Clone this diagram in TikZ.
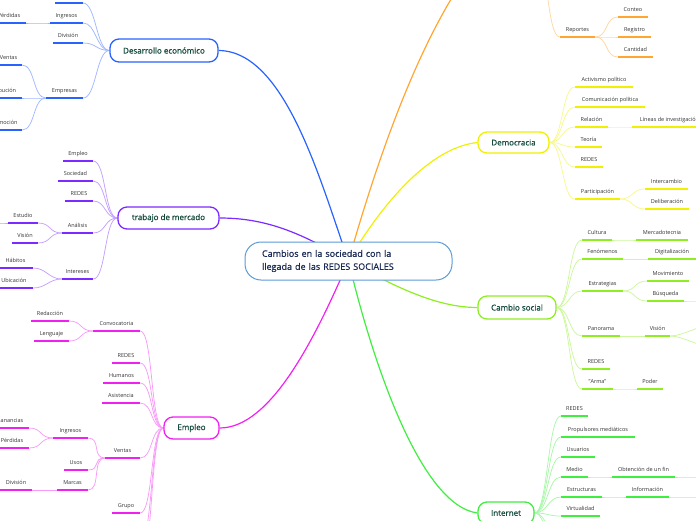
\documentclass[tikz,border=0pt]{standalone}
\usepackage{fontspec}
\setmainfont{Open Sans}
\newfontfamily\mmboldish[FakeBold=0.6]{Open Sans}
\definecolor{cB}{HTML}{2962FF}
\definecolor{cP}{HTML}{7B2BFF}
\definecolor{cM}{HTML}{F020F0}
\definecolor{cO}{HTML}{FFA630}
\definecolor{cY}{HTML}{F0F000}
\definecolor{cL}{HTML}{8EEE22}
\definecolor{cG}{HTML}{40EE40}
\definecolor{rootc}{HTML}{5B9BD5}
\definecolor{roottext}{HTML}{1B2B55}
\definecolor{maintext}{HTML}{134A3C}
\definecolor{leaftext}{HTML}{333333}
\pgfdeclarelayer{bg}
\pgfsetlayers{bg,main}
\newcommand\mmleaf[6]{%
  \pgfmathsetmacro\mmw{#4-(#3)}%
  \pgfmathsetmacro\mmx{(#3+#4)/2}%
  \node[leaf, minimum width=\mmw pt] (#2) at (\mmx,#5) {#6};%
  \draw[draw=#1, line width=1.6pt] (#2.south west) -- (#2.south east);%
}
\newcommand\mmR[3]{\begin{pgfonlayer}{bg}\draw[#1] (#2) .. controls +(13,0) and +(-13,0) .. (#3);\end{pgfonlayer}}
\newcommand\mmL[3]{\begin{pgfonlayer}{bg}\draw[#1] (#2) .. controls +(-13,0) and +(13,0) .. (#3);\end{pgfonlayer}}
\begin{document}
\begin{tikzpicture}[x=1pt,y=-1pt,
  leaf/.style={font=\fontsize{5.5}{6}\selectfont, text=leaftext, inner xsep=0pt, inner ysep=5pt, text height=4pt, text depth=0pt, anchor=south},
  mainbox/.style={draw=#1, line width=1.3pt, fill=white, rounded corners=9pt, font=\mmboldish\fontsize{8}{9}\selectfont, text=maintext, inner sep=0pt},
  rootbox/.style={draw=rootc, line width=1pt, fill=white, rounded corners=16pt, minimum width=207pt, minimum height=38pt, text width=173pt, align=left, inner xsep=17pt, inner ysep=0pt, font=\mmboldish\fontsize{9}{13}\selectfont, text=roottext},
  br/.style={draw=#1, line width=1.2pt},
  cn/.style={draw=#1!45, line width=0.75pt},
]
\useasboundingbox (0,0) rectangle (696,520);

\node[rootbox] (root) at (348.5,261) {Cambios en la sociedad con la\\llegada de las REDES SOCIALES};

\node[mainbox=cB, minimum width=108pt, minimum height=23pt] (dev) at (164,50.5) {Desarrollo económico};
\node[mainbox=cP, minimum width=101pt, minimum height=22pt] (trab) at (168.5,218) {trabajo de mercado};
\node[mainbox=cM, minimum width=55pt, minimum height=22pt] (empl) at (191.5,428) {Empleo};
\node[mainbox=cY, minimum width=71pt, minimum height=21pt] (demo) at (513.5,142.5) {Democracia};
\node[mainbox=cL, minimum width=78pt, minimum height=23pt] (camb) at (517,307.5) {Cambio social};
\node[mainbox=cG, minimum width=56pt, minimum height=22pt] (inet) at (506,513) {Internet};
\coordinate (orn) at (470,-30);
\coordinate (ornJ) at (535,-45);

\begin{pgfonlayer}{bg}
\draw[br=cB] (root.center) .. controls (320,180) and (285,51) .. (dev.east);
\draw[br=cP] (root.center) .. controls (300,232) and (265,218) .. (trab.east);
\draw[br=cM] (root.center) .. controls (314,341) and (270,428) .. (empl.east);
\draw[br=cO] (root.center) .. controls (380,150) and (420,40) .. (orn);
\draw[br=cY] (root.center) .. controls (375,215) and (425,148) .. (demo.west);
\draw[br=cL] (root.center) .. controls (400,290) and (440,307.5) .. (camb.west);
\draw[br=cG] (root.center) .. controls (372,360) and (420,505) .. (inet.west);
\end{pgfonlayer}

% Desarrollo economico
\coordinate (d0) at (83,3);
\draw[cB, line width=1.6pt] (d0) -- ++(-28,0);
\mmleaf{cB}{dIng}{50}{83}{23}{Ingresos}
\mmleaf{cB}{dPer}{-8}{26}{23}{Pérdidas}
\mmleaf{cB}{dDiv}{53}{83}{43}{División}
\mmleaf{cB}{dEmp}{46}{83}{98}{Empresas}
\mmleaf{cB}{dVen}{-5}{22}{65}{Ventas}
\mmleaf{cB}{dDis}{-21}{22}{98}{Distribución}
\mmleaf{cB}{dPro}{-15}{22}{130}{Promoción}
\mmL{cn=cB}{dev.west}{d0}
\mmL{cn=cB}{dev.west}{dIng.south east}
\mmL{cn=cB}{dev.west}{dDiv.south east}
\mmL{cn=cB}{dev.west}{dEmp.south east}
\mmL{cn=cB}{dIng.south west}{dPer.south east}
\mmL{cn=cB}{dEmp.south west}{dVen.south east}
\mmL{cn=cB}{dEmp.south west}{dDis.south east}
\mmL{cn=cB}{dEmp.south west}{dPro.south east}

% trabajo de mercado
\mmleaf{cP}{tEmp}{63}{93}{161}{Empleo}
\mmleaf{cP}{tSoc}{58}{93}{181}{Sociedad}
\mmleaf{cP}{tRed}{65}{93}{201}{REDES}
\mmleaf{cP}{tAna}{62}{93}{233}{Análisis}
\mmleaf{cP}{tEst}{8}{38}{223}{Estudio}
\mmleaf{cP}{tVis}{12}{38}{243}{Visión}
\mmleaf{cP}{tInt}{62}{93}{279}{Intereses}
\mmleaf{cP}{tHab}{-2}{33}{268}{Hábitos}
\mmleaf{cP}{tUbi}{-5}{33}{288}{Ubicación}
\coordinate (tEstOff) at (-25,223);
\mmL{cn=cP}{trab.west}{tEmp.south east}
\mmL{cn=cP}{trab.west}{tSoc.south east}
\mmL{cn=cP}{trab.west}{tRed.south east}
\mmL{cn=cP}{trab.west}{tAna.south east}
\mmL{cn=cP}{trab.west}{tInt.south east}
\mmL{cn=cP}{tAna.south west}{tEst.south east}
\mmL{cn=cP}{tAna.south west}{tVis.south east}
\mmL{cn=cP}{tInt.south west}{tHab.south east}
\mmL{cn=cP}{tInt.south west}{tUbi.south east}
\mmL{cn=cP}{tEst.south west}{tEstOff}

% Empleo
\mmleaf{cM}{eCon}{93}{140}{331}{Convocatoria}
\mmleaf{cM}{eRed}{31}{69}{321}{Redacción}
\mmleaf{cM}{eLen}{34}{69}{341}{Lenguaje}
\mmleaf{cM}{eRDS}{112}{140}{363}{REDES}
\mmleaf{cM}{eHum}{103}{140}{383}{Humanos}
\mmleaf{cM}{eAsi}{102}{140}{403}{Asistencia}
\mmleaf{cM}{eVen}{105}{140}{458}{Ventas}
\mmleaf{cM}{eIng}{53}{88}{438}{Ingresos}
\mmleaf{cM}{eUso}{64}{88}{470}{Usos}
\mmleaf{cM}{eMar}{57}{88}{490}{Marcas}
\mmleaf{cM}{eGan}{-9}{29}{428}{Ganancias}
\mmleaf{cM}{ePer}{-5}{29}{448}{Pérdidas}
\mmleaf{cM}{eDiv}{0}{32}{490}{División}
\mmleaf{cM}{eGru}{112}{140}{513}{Grupo}
\coordinate (eOff1) at (140,542);
\coordinate (eOff2) at (140,566);
\mmL{cn=cM}{empl.west}{eCon.south east}
\mmL{cn=cM}{empl.west}{eRDS.south east}
\mmL{cn=cM}{empl.west}{eHum.south east}
\mmL{cn=cM}{empl.west}{eAsi.south east}
\mmL{cn=cM}{empl.west}{eVen.south east}
\mmL{cn=cM}{empl.west}{eGru.south east}
\mmL{cn=cM}{empl.west}{eOff1}
\mmL{cn=cM}{empl.west}{eOff2}
\mmL{cn=cM}{eCon.south west}{eRed.south east}
\mmL{cn=cM}{eCon.south west}{eLen.south east}
\mmL{cn=cM}{eVen.south west}{eIng.south east}
\mmL{cn=cM}{eVen.south west}{eUso.south east}
\mmL{cn=cM}{eVen.south west}{eMar.south east}
\mmL{cn=cM}{eIng.south west}{eGan.south east}
\mmL{cn=cM}{eIng.south west}{ePer.south east}
\mmL{cn=cM}{eMar.south west}{eDiv.south east}

% orange branch
\mmleaf{cO}{oRep}{560}{595}{37}{Reportes}
\mmleaf{cO}{oCon}{618}{648}{17}{Conteo}
\mmleaf{cO}{oReg}{618}{651}{37}{Registro}
\mmleaf{cO}{oCan}{618}{653}{57}{Cantidad}
\mmR{cn=cO}{ornJ}{oRep.south west}
\mmR{cn=cO}{oRep.south east}{oCon.south west}
\mmR{cn=cO}{oRep.south east}{oReg.south west}
\mmR{cn=cO}{oRep.south east}{oCan.south west}

% Democracia
\mmleaf{cY}{yAct}{575}{633}{87}{Activismo político}
\mmleaf{cY}{yCom}{575}{645}{107}{Comunicación política}
\mmleaf{cY}{yRel}{575}{608}{127}{Relación}
\mmleaf{cY}{yLin}{632}{707}{127}{Líneas de investigación}
\mmleaf{cY}{yTeo}{575}{602}{147}{Teoría}
\mmleaf{cY}{yRed}{575}{603}{167}{REDES}
\mmleaf{cY}{yPar}{575}{620}{199}{Participación}
\mmleaf{cY}{yInt}{645}{688}{189}{Intercambio}
\mmleaf{cY}{yDel}{645}{689}{209}{Deliberación}
\mmR{cn=cY}{demo.east}{yAct.south west}
\mmR{cn=cY}{demo.east}{yCom.south west}
\mmR{cn=cY}{demo.east}{yRel.south west}
\mmR{cn=cY}{demo.east}{yTeo.south west}
\mmR{cn=cY}{demo.east}{yRed.south west}
\mmR{cn=cY}{demo.east}{yPar.south west}
\mmR{cn=cY}{yRel.south east}{yLin.south west}
\mmR{cn=cY}{yPar.south east}{yInt.south west}
\mmR{cn=cY}{yPar.south east}{yDel.south west}

% Cambio social
\mmleaf{cL}{cCul}{582}{612}{240}{Cultura}
\mmleaf{cL}{cMer}{636}{688}{240}{Mercadotecnia}
\mmleaf{cL}{cFen}{582}{623}{259}{Fenómenos}
\mmleaf{cL}{cDig}{648}{696}{259}{Digitalización}
\mmleaf{cL}{cEst}{582}{623}{291}{Estrategias}
\mmleaf{cL}{cMov}{647}{689}{281}{Movimiento}
\mmleaf{cL}{cBus}{647}{684}{301}{Búsqueda}
\mmleaf{cL}{cPan}{582}{620}{336}{Panorama}
\mmleaf{cL}{cVis}{645}{670}{336}{Visión}
\mmleaf{cL}{cRed}{582}{610}{369}{REDES}
\mmleaf{cL}{cArm}{582}{613}{389}{"Arma"}
\mmleaf{cL}{cPod}{637}{663}{389}{Poder}
\coordinate (cBusOff) at (720,301);
\coordinate (cVisOff1) at (712,325);
\coordinate (cVisOff2) at (712,347);
\mmR{cn=cL}{camb.east}{cCul.south west}
\mmR{cn=cL}{camb.east}{cFen.south west}
\mmR{cn=cL}{camb.east}{cEst.south west}
\mmR{cn=cL}{camb.east}{cPan.south west}
\mmR{cn=cL}{camb.east}{cRed.south west}
\mmR{cn=cL}{camb.east}{cArm.south west}
\mmR{cn=cL}{cCul.south east}{cMer.south west}
\mmR{cn=cL}{cFen.south east}{cDig.south west}
\mmR{cn=cL}{cEst.south east}{cMov.south west}
\mmR{cn=cL}{cEst.south east}{cBus.south west}
\mmR{cn=cL}{cBus.south east}{cBusOff}
\mmR{cn=cL}{cPan.south east}{cVis.south west}
\mmR{cn=cL}{cVis.south east}{cVisOff1}
\mmR{cn=cL}{cVis.south east}{cVisOff2}
\mmR{cn=cL}{cArm.south east}{cPod.south west}

% Internet
\mmleaf{cG}{iRed}{561}{588}{416}{REDES}
\mmleaf{cG}{iPro}{561}{635}{437}{Propulsores mediáticos}
\mmleaf{cG}{iUsu}{561}{595}{457}{Usuarios}
\mmleaf{cG}{iMed}{561}{588}{477}{Medio}
\mmleaf{cG}{iObt}{612}{675}{477}{Obtención de un fin}
\mmleaf{cG}{iEst}{561}{602}{497}{Estructuras}
\mmleaf{cG}{iInf}{626}{669}{497}{Información}
\mmleaf{cG}{iVir}{561}{600}{516}{Virtualidad}
\coordinate (iObtOff) at (720,477);
\coordinate (iInfOff) at (720,497);
\coordinate (iOff1) at (561,540);
\coordinate (iOff2) at (561,562);
\mmR{cn=cG}{inet.east}{iRed.south west}
\mmR{cn=cG}{inet.east}{iPro.south west}
\mmR{cn=cG}{inet.east}{iUsu.south west}
\mmR{cn=cG}{inet.east}{iMed.south west}
\mmR{cn=cG}{inet.east}{iEst.south west}
\mmR{cn=cG}{inet.east}{iVir.south west}
\mmR{cn=cG}{inet.east}{iOff1}
\mmR{cn=cG}{inet.east}{iOff2}
\mmR{cn=cG}{iMed.south east}{iObt.south west}
\mmR{cn=cG}{iObt.south east}{iObtOff}
\mmR{cn=cG}{iEst.south east}{iInf.south west}
\mmR{cn=cG}{iInf.south east}{iInfOff}
\end{tikzpicture}
\end{document}
